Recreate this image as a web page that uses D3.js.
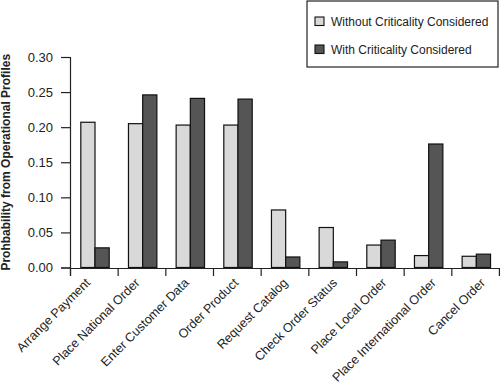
<!DOCTYPE html>
<html>
<head>
<meta charset="utf-8">
<script src="https://cdn.jsdelivr.net/npm/d3@7"></script>
<style>
  body { margin: 0; background: #fff; }
  svg { display: block; font-family: "Liberation Sans", Arial, sans-serif; }
</style>
</head>
<body>
<svg id="chart" width="500" height="384"></svg>
<script>
// categories and series
const categories = ["Arrange Payment", "Place National Order", "Enter Customer Data", "Order Product",
    "Request Catalog", "Check Order Status", "Place Local Order", "Place International Order", "Cancel Order"];
const seriesNames = ["Without Criticality Considered", "With Criticality Considered"];
const withoutCrit = [0.207, 0.205, 0.203, 0.203, 0.082, 0.057, 0.032, 0.017, 0.016];
const withCrit = [0.028, 0.246, 0.241, 0.240, 0.015, 0.008, 0.039, 0.176, 0.019];
const yTicks = [0, 0.05, 0.10, 0.15, 0.20, 0.25, 0.30];
const fills = ["#d9d9d9", "#555555"];

const svg = d3.select("#chart");
const margin = {left: 70, right: 1, top: 57, bottom: 116};
const width = 500, height = 384;
const plotBottom = 267.5;

const y = d3.scaleLinear().domain([0, 0.3]).range([plotBottom, margin.top]);
const x0 = d3.scaleBand().domain(categories).range([margin.left, width - margin.right]);
const x1 = d3.scaleBand().domain(seriesNames).range([10.8, 10.8 + 28.4]);
// boundary ticks between groups
const xEdge = d3.scaleLinear().domain([0, categories.length]).range([margin.left, width - margin.right]);
// label anchors run a little wider than the bar groups in the original
const xLabel = d3.scalePoint().domain(categories).range([91, 486]);

const rows = categories.map((c, i) => ({cat: c, vals: [withoutCrit[i], withCrit[i]]}));

// bars
svg.append("g").selectAll("g")
    .data(rows)
    .join("g")
    .attr("transform", d => `translate(${x0(d.cat)},0)`)
    .selectAll("rect")
    .data(d => d.vals.map((v, k) => ({v, k})))
    .join("rect")
    .attr("x", d => x1(seriesNames[d.k]))
    .attr("y", d => y(d.v))
    .attr("width", x1.bandwidth())
    .attr("height", d => plotBottom - y(d.v))
    .attr("fill", d => fills[d.k])
    .attr("stroke", "#111")
    .attr("stroke-width", 1.2);

// y axis
const yAxis = svg.append("g")
    .attr("transform", `translate(${margin.left},0)`)
    .call(d3.axisLeft(y).tickValues(yTicks).tickFormat(d3.format(".2f")).tickSizeOuter(0).tickSize(9).tickPadding(8));
yAxis.selectAll("text").attr("font-size", "13px").attr("fill", "#222").attr("font-family", "Liberation Sans, Arial, sans-serif");
yAxis.selectAll("line, path").attr("stroke", "#222").attr("stroke-width", 1.2);

// x axis
const xAxis = svg.append("g")
    .attr("transform", `translate(0,${plotBottom + 0.5})`)
    .call(d3.axisBottom(xEdge).tickValues(d3.range(categories.length + 1)).tickFormat("").tickSizeOuter(0).tickSize(8));
xAxis.selectAll("line, path").attr("stroke", "#222").attr("stroke-width", 1.2);

// rotated category labels
svg.append("g").selectAll("text")
    .data(categories)
    .join("text")
    .attr("transform", d => `translate(${xLabel(d)},${plotBottom + 16}) rotate(-45)`)
    .attr("text-anchor", "end")
    .attr("font-size", "12.6px")
    .attr("fill", "#222")
    .text(d => d);

// y title
svg.append("text")
    .attr("transform", `translate(10,${(margin.top + plotBottom) / 2}) rotate(-90)`)
    .attr("text-anchor", "middle")
    .attr("font-size", "12px")
    .attr("font-weight", "bold")
    .attr("fill", "#222")
    .text("Prohbability from Operational Profiles");

// legend
const legend = svg.append("g").attr("transform", "translate(307,1)");
legend.append("rect")
    .attr("width", 191).attr("height", 66)
    .attr("fill", "#fff").attr("stroke", "#222").attr("stroke-width", 1.2);
const items = legend.selectAll("g.item")
    .data(seriesNames)
    .join("g").attr("class", "item")
    .attr("transform", (d, i) => `translate(8,${16 + i * 28})`);
items.append("rect")
    .attr("width", 9).attr("height", 8.5)
    .attr("fill", (d, i) => fills[i])
    .attr("stroke", "#111").attr("stroke-width", 1.1);
items.append("text")
    .attr("x", 16).attr("y", 9)
    .attr("font-size", "12px")
    .attr("fill", "#222")
    .text(d => d);
</script>
</body>
</html>
